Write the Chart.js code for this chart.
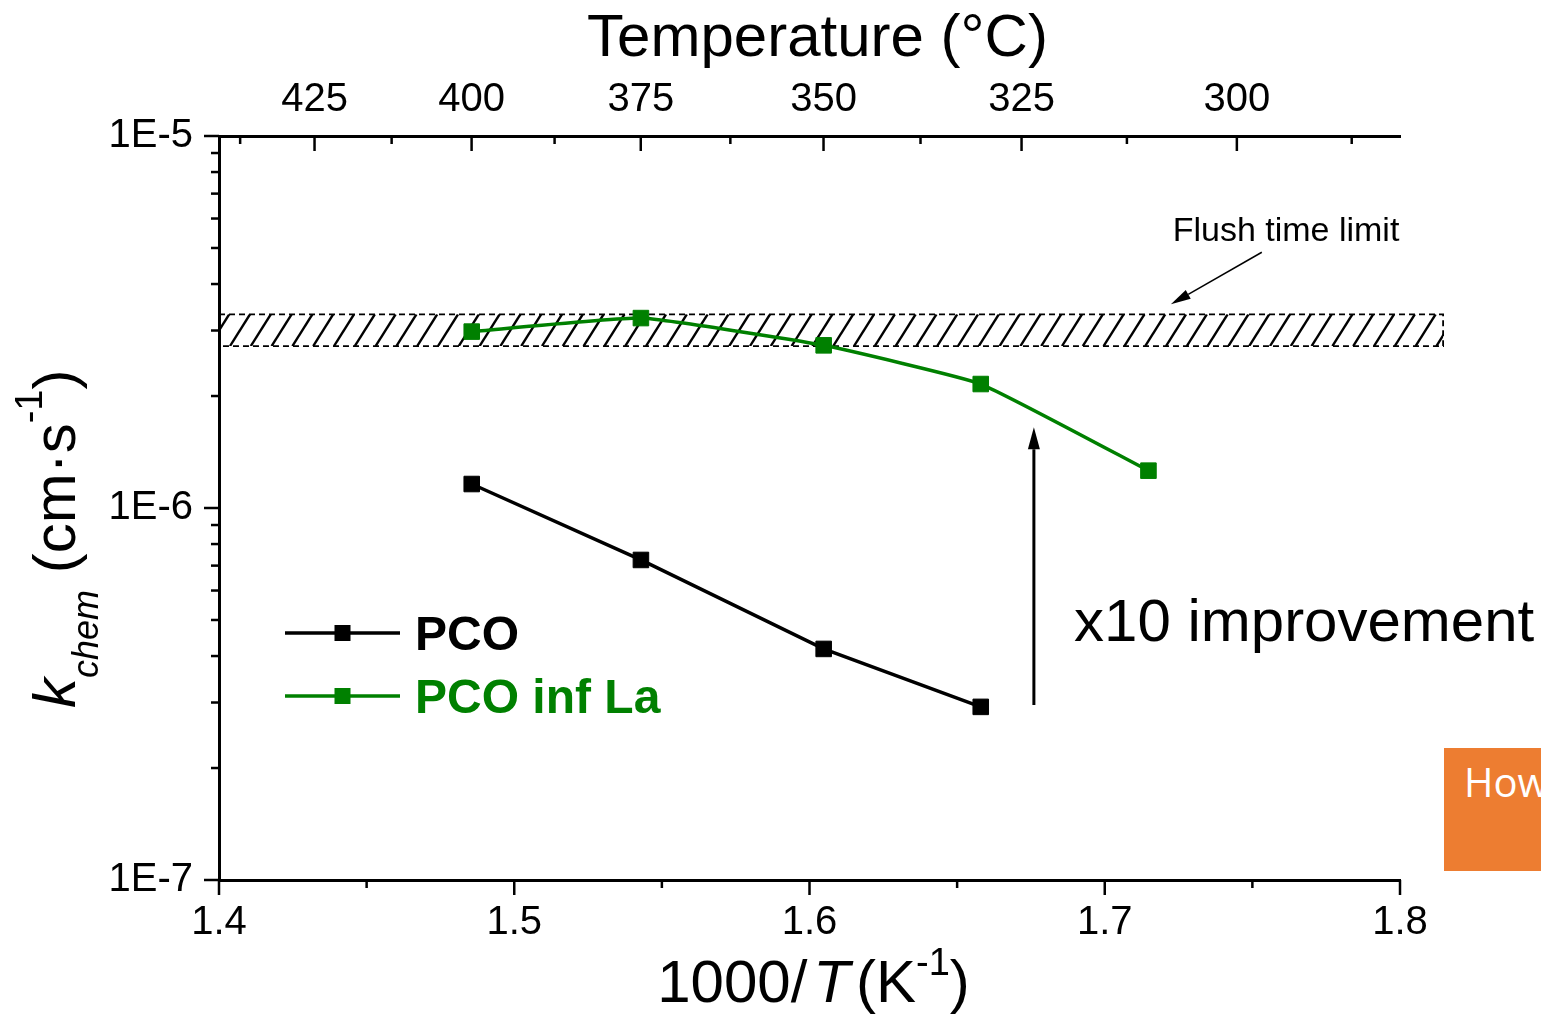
<!DOCTYPE html>
<html>
<head>
<meta charset="utf-8">
<title>k_chem vs 1000/T</title>
<script src="https://cdn.jsdelivr.net/npm/chart.js@4.4.0/dist/chart.umd.min.js"></script>
<style>
    html, body { margin: 0; padding: 0; background: #fff; overflow: hidden; }
    #wrap { position: relative; width: 1541px; height: 1014px; overflow: hidden; }
    #kChart { display: block; }
    .slide-tag {
        position: absolute; left: 1444px; top: 748px; width: 160px; height: 123px;
        background: #ED7D31; color: #fff; font: 40px "Open Sans", sans-serif;
    }
    .slide-tag span { position: absolute; left: 20px; top: 14px; line-height: 40px; }
</style>
</head>
<body>
<div id="wrap">
    <canvas id="kChart" width="1541" height="1014"></canvas>
    <div class="slide-tag"><span>How</span></div>
</div>
<script>
// ========= data =========
// 1000/T in K^-1 (400, 375, 350, 330, 310 °C)
const invTemp    = [1.4856, 1.5429, 1.6048, 1.6580, 1.7148];
// k_chem in cm/s
const kChemPCO   = [1.160e-6, 7.25e-7, 4.18e-7, 2.92e-7];
const kChemPCOLa = [2.98e-6, 3.24e-6, 2.737e-6, 2.154e-6, 1.26e-6];

const seriesNames  = ["PCO", "PCO inf La"];
const seriesColors = ["#000000", "#008000"];

// axis ticks
const invTMajor = [1.4, 1.5, 1.6, 1.7, 1.8];
const invTMinor = [1.45, 1.55, 1.65, 1.75];
const kDecades  = [1e-7, 1e-6, 1e-5];
const tempMajor = [425, 400, 375, 350, 325, 300];             // °C on the top axis
const tempMinor = [437.5, 412.5, 387.5, 362.5, 337.5, 312.5, 287.5];

// flush time limit band + annotations
const flushLow   = 2.725e-6;
const flushHigh  = 3.317e-6;
const flushXEnd  = 1.8146;
const flushArrow = { x1: 1.7532, y1: 4.87e-6, x2: 1.7224, y2: 3.53e-6 };
const flushLabel = { x: 1.7230, y: 5.23e-6, text: "Flush time limit" };
const gainArrow  = { x: 1.676, y1: 2.953e-7, y2: 1.648e-6 };
const gainLabel  = { x: 1.6896, y: 4.39e-7, text: "x10 improvement" };

const FONT = '"Liberation Sans", Arial, sans-serif';
const toInv = t => 1000 / (t + 273.15);

Chart.defaults.font.family = FONT;
Chart.defaults.color = "#000";

function drawArrow(ctx, x1, y1, x2, y2, lw, headLen, headHalf) {
    const a = Math.atan2(y2 - y1, x2 - x1);
    const bx = x2 - headLen * Math.cos(a);
    const by = y2 - headLen * Math.sin(a);
    ctx.lineWidth = lw;
    ctx.beginPath();
    ctx.moveTo(x1, y1);
    ctx.lineTo(bx, by);
    ctx.stroke();
    ctx.beginPath();
    ctx.moveTo(x2, y2);
    ctx.lineTo(bx + headHalf * Math.sin(a), by - headHalf * Math.cos(a));
    ctx.lineTo(bx - headHalf * Math.sin(a), by + headHalf * Math.cos(a));
    ctx.closePath();
    ctx.fill();
}

// draws a run of text pieces one after another along the baseline
function drawRich(ctx, pieces, x0, y0) {
    let x = x0;
    for (const p of pieces) {
        if (p.gap) { x += p.gap; continue; }
        ctx.font = p.font;
        ctx.fillText(p.text, x, y0 + (p.dy || 0));
        x += ctx.measureText(p.text).width;
    }
    return x - x0;
}

function richWidth(ctx, pieces) {
    let w = 0;
    for (const p of pieces) {
        if (p.gap) { w += p.gap; continue; }
        ctx.font = p.font;
        w += ctx.measureText(p.text).width;
    }
    return w;
}

// ---- hatched band behind the data ----
const bandPlugin = {
    id: "flushBand",
    beforeDatasetsDraw(chart) {
        const { ctx, chartArea } = chart;
        const x = chart.scales.x, y = chart.scales.y;
        const left = chartArea.left;
        const right = x.getPixelForValue(flushXEnd);
        const top = y.getPixelForValue(flushHigh);
        const bottom = y.getPixelForValue(flushLow);
        const h = bottom - top;
        const run = h * 0.63;
        const step = 20.8;

        ctx.save();
        ctx.beginPath();
        ctx.rect(left, top, right - left, h);
        ctx.clip();
        ctx.strokeStyle = "#000";
        ctx.lineWidth = 2.4;
        for (let sx = left + 11 - 3 * step; sx < right + step; sx += step) {
            ctx.beginPath();
            ctx.moveTo(sx, bottom);
            ctx.lineTo(sx + run, top);
            ctx.stroke();
        }
        ctx.restore();

        ctx.save();
        ctx.strokeStyle = "#000";
        ctx.lineWidth = 1.8;
        ctx.setLineDash([6, 4]);
        ctx.beginPath();
        ctx.moveTo(left, top);
        ctx.lineTo(right, top);
        ctx.lineTo(right, bottom);
        ctx.lineTo(left, bottom);
        ctx.stroke();
        ctx.restore();
    }
};

// ---- arrows, labels, legend, axis titles, tick marks ----
const decorPlugin = {
    id: "decor",
    afterDraw(chart) {
        const { ctx, chartArea } = chart;
        const x = chart.scales.x, y = chart.scales.y;
        const L = chartArea.left, R = chartArea.right, T = chartArea.top, B = chartArea.bottom;

        ctx.save();
        ctx.strokeStyle = "#000";
        ctx.fillStyle = "#000";
        ctx.lineCap = "butt";

        // tick marks
        ctx.lineWidth = 2.5;
        const tick = (x1, y1, x2, y2) => { ctx.beginPath(); ctx.moveTo(x1, y1); ctx.lineTo(x2, y2); ctx.stroke(); };
        kDecades.forEach((d, i) => {
            const py = y.getPixelForValue(d);
            tick(L - 15, py, L, py);
            if (i < kDecades.length - 1) {
                for (let m = 2; m <= 9; m++) {
                    const pm = y.getPixelForValue(m * d);
                    tick(L - 8, pm, L, pm);
                }
            }
        });
        invTMajor.forEach(v => { const px = x.getPixelForValue(v); tick(px, B, px, B + 15); });
        invTMinor.forEach(v => { const px = x.getPixelForValue(v); tick(px, B, px, B + 8); });
        tempMajor.forEach(t => { const px = x.getPixelForValue(toInv(t)); tick(px, T, px, T + 15); });
        tempMinor.forEach(t => { const px = x.getPixelForValue(toInv(t)); tick(px, T, px, T + 8); });

        // x10 arrow
        const gx = x.getPixelForValue(gainArrow.x);
        drawArrow(ctx, gx, y.getPixelForValue(gainArrow.y1), gx, y.getPixelForValue(gainArrow.y2), 3, 22, 6);
        ctx.font = "60px " + FONT;
        ctx.textAlign = "left";
        ctx.textBaseline = "alphabetic";
        ctx.fillText(gainLabel.text, x.getPixelForValue(gainLabel.x), y.getPixelForValue(gainLabel.y));

        // flush time limit pointer
        drawArrow(ctx,
            x.getPixelForValue(flushArrow.x1), y.getPixelForValue(flushArrow.y1),
            x.getPixelForValue(flushArrow.x2), y.getPixelForValue(flushArrow.y2), 1.5, 20, 5);
        ctx.font = "34px " + FONT;
        ctx.fillText(flushLabel.text, x.getPixelForValue(flushLabel.x), y.getPixelForValue(flushLabel.y));

        // legend
        chart.data.datasets.forEach((ds, i) => {
            const ly = T + 497 + i * 63;
            ctx.strokeStyle = ds.borderColor;
            ctx.fillStyle = ds.borderColor;
            ctx.lineWidth = 3.5;
            tick(L + 66, ly, L + 181, ly);
            ctx.fillRect(L + 123.5 - 8, ly - 8, 16, 16);
            ctx.font = "bold 48px " + FONT;
            ctx.fillText(ds.label, L + 196, ly + 17);
        });

        // axis titles
        ctx.fillStyle = "#000";
        ctx.textAlign = "center";
        ctx.font = "60px " + FONT;
        ctx.fillText("Temperature (°C)", (L + R) / 2 + 8, 56);

        ctx.textAlign = "left";
        const xTitle = [
            { text: "1000/", font: "60px " + FONT },
            { gap: 6 },
            { text: "T", font: "italic 60px " + FONT },
            { gap: 6 },
            { text: "(K", font: "60px " + FONT },
            { text: "-1", font: "38px " + FONT, dy: -27 },
            { text: ")", font: "60px " + FONT }
        ];
        const xw = richWidth(ctx, xTitle);
        drawRich(ctx, xTitle, (L + R) / 2 - xw / 2 + 4, 1002);

        const yTitle = [
            { text: "k", font: "italic 60px " + FONT },
            { text: "chem", font: "italic 36px " + FONT, dy: 23 },
            { text: " (cm·s", font: "60px " + FONT },
            { text: "-1", font: "38px " + FONT, dy: -33 },
            { text: ")", font: "60px " + FONT }
        ];
        ctx.translate(75, 708);
        ctx.rotate(-Math.PI / 2);
        drawRich(ctx, yTitle, 0, 0);

        ctx.restore();
    }
};

const kCtx = document.getElementById("kChart");

const kChart = new Chart(kCtx, {
    type: "line",
    data: {
        datasets: [
            {
                label: seriesNames[0],
                data: kChemPCO.map((k, i) => ({ x: invTemp[i], y: k })),
                borderColor: seriesColors[0],
                backgroundColor: seriesColors[0],
                borderWidth: 3.5,
                pointStyle: "rect",
                pointRadius: 11,
                pointBorderWidth: 1,
                tension: 0
            },
            {
                label: seriesNames[1],
                data: kChemPCOLa.map((k, i) => ({ x: invTemp[i], y: k })),
                borderColor: seriesColors[1],
                backgroundColor: seriesColors[1],
                borderWidth: 3.5,
                pointStyle: "rect",
                pointRadius: 11,
                pointBorderWidth: 1,
                tension: 0.12
            }
        ]
    },
    options: {
        responsive: false,
        animation: false,
        devicePixelRatio: 1,
        layout: { padding: { left: 0, right: 141, top: 0, bottom: 0 } },
        plugins: {
            legend: { display: false },
            tooltip: { enabled: false }
        },
        scales: {
            x: {
                type: "linear",
                position: "bottom",
                min: 1.4,
                max: 1.8,
                grid: { display: false, drawTicks: false },
                border: { display: true, color: "#000", width: 3 },
                ticks: {
                    stepSize: 0.1,
                    padding: 19,
                    maxRotation: 0,
                    autoSkip: false,
                    font: { size: 40 },
                    color: "#000",
                    callback: v => Number(v).toFixed(1)
                },
                afterFit: s => { s.height = 134; }
            },
            xTop: {
                type: "linear",
                position: "top",
                min: 1.4,
                max: 1.8,
                grid: { display: false, drawTicks: false },
                border: { display: true, color: "#000", width: 3 },
                ticks: {
                    padding: 12,
                    maxRotation: 0,
                    autoSkip: false,
                    font: { size: 40 },
                    color: "#000",
                    callback: v => Math.round(1000 / v - 273.15)
                },
                afterBuildTicks: s => { s.ticks = tempMajor.map(t => ({ value: toInv(t) })); },
                afterFit: s => { s.height = 136; }
            },
            y: {
                type: "logarithmic",
                position: "left",
                min: 1e-7,
                max: 1e-5,
                grid: { display: false, drawTicks: false },
                border: { display: true, color: "#000", width: 3 },
                ticks: {
                    padding: 26,
                    font: { size: 40 },
                    color: "#000",
                    callback: v => "1E" + Math.round(Math.log10(v))
                },
                afterBuildTicks: s => { s.ticks = kDecades.map(v => ({ value: v })); },
                afterFit: s => { s.width = 219; }
            }
        }
    },
    plugins: [bandPlugin, decorPlugin]
});
</script>
</body>
</html>
